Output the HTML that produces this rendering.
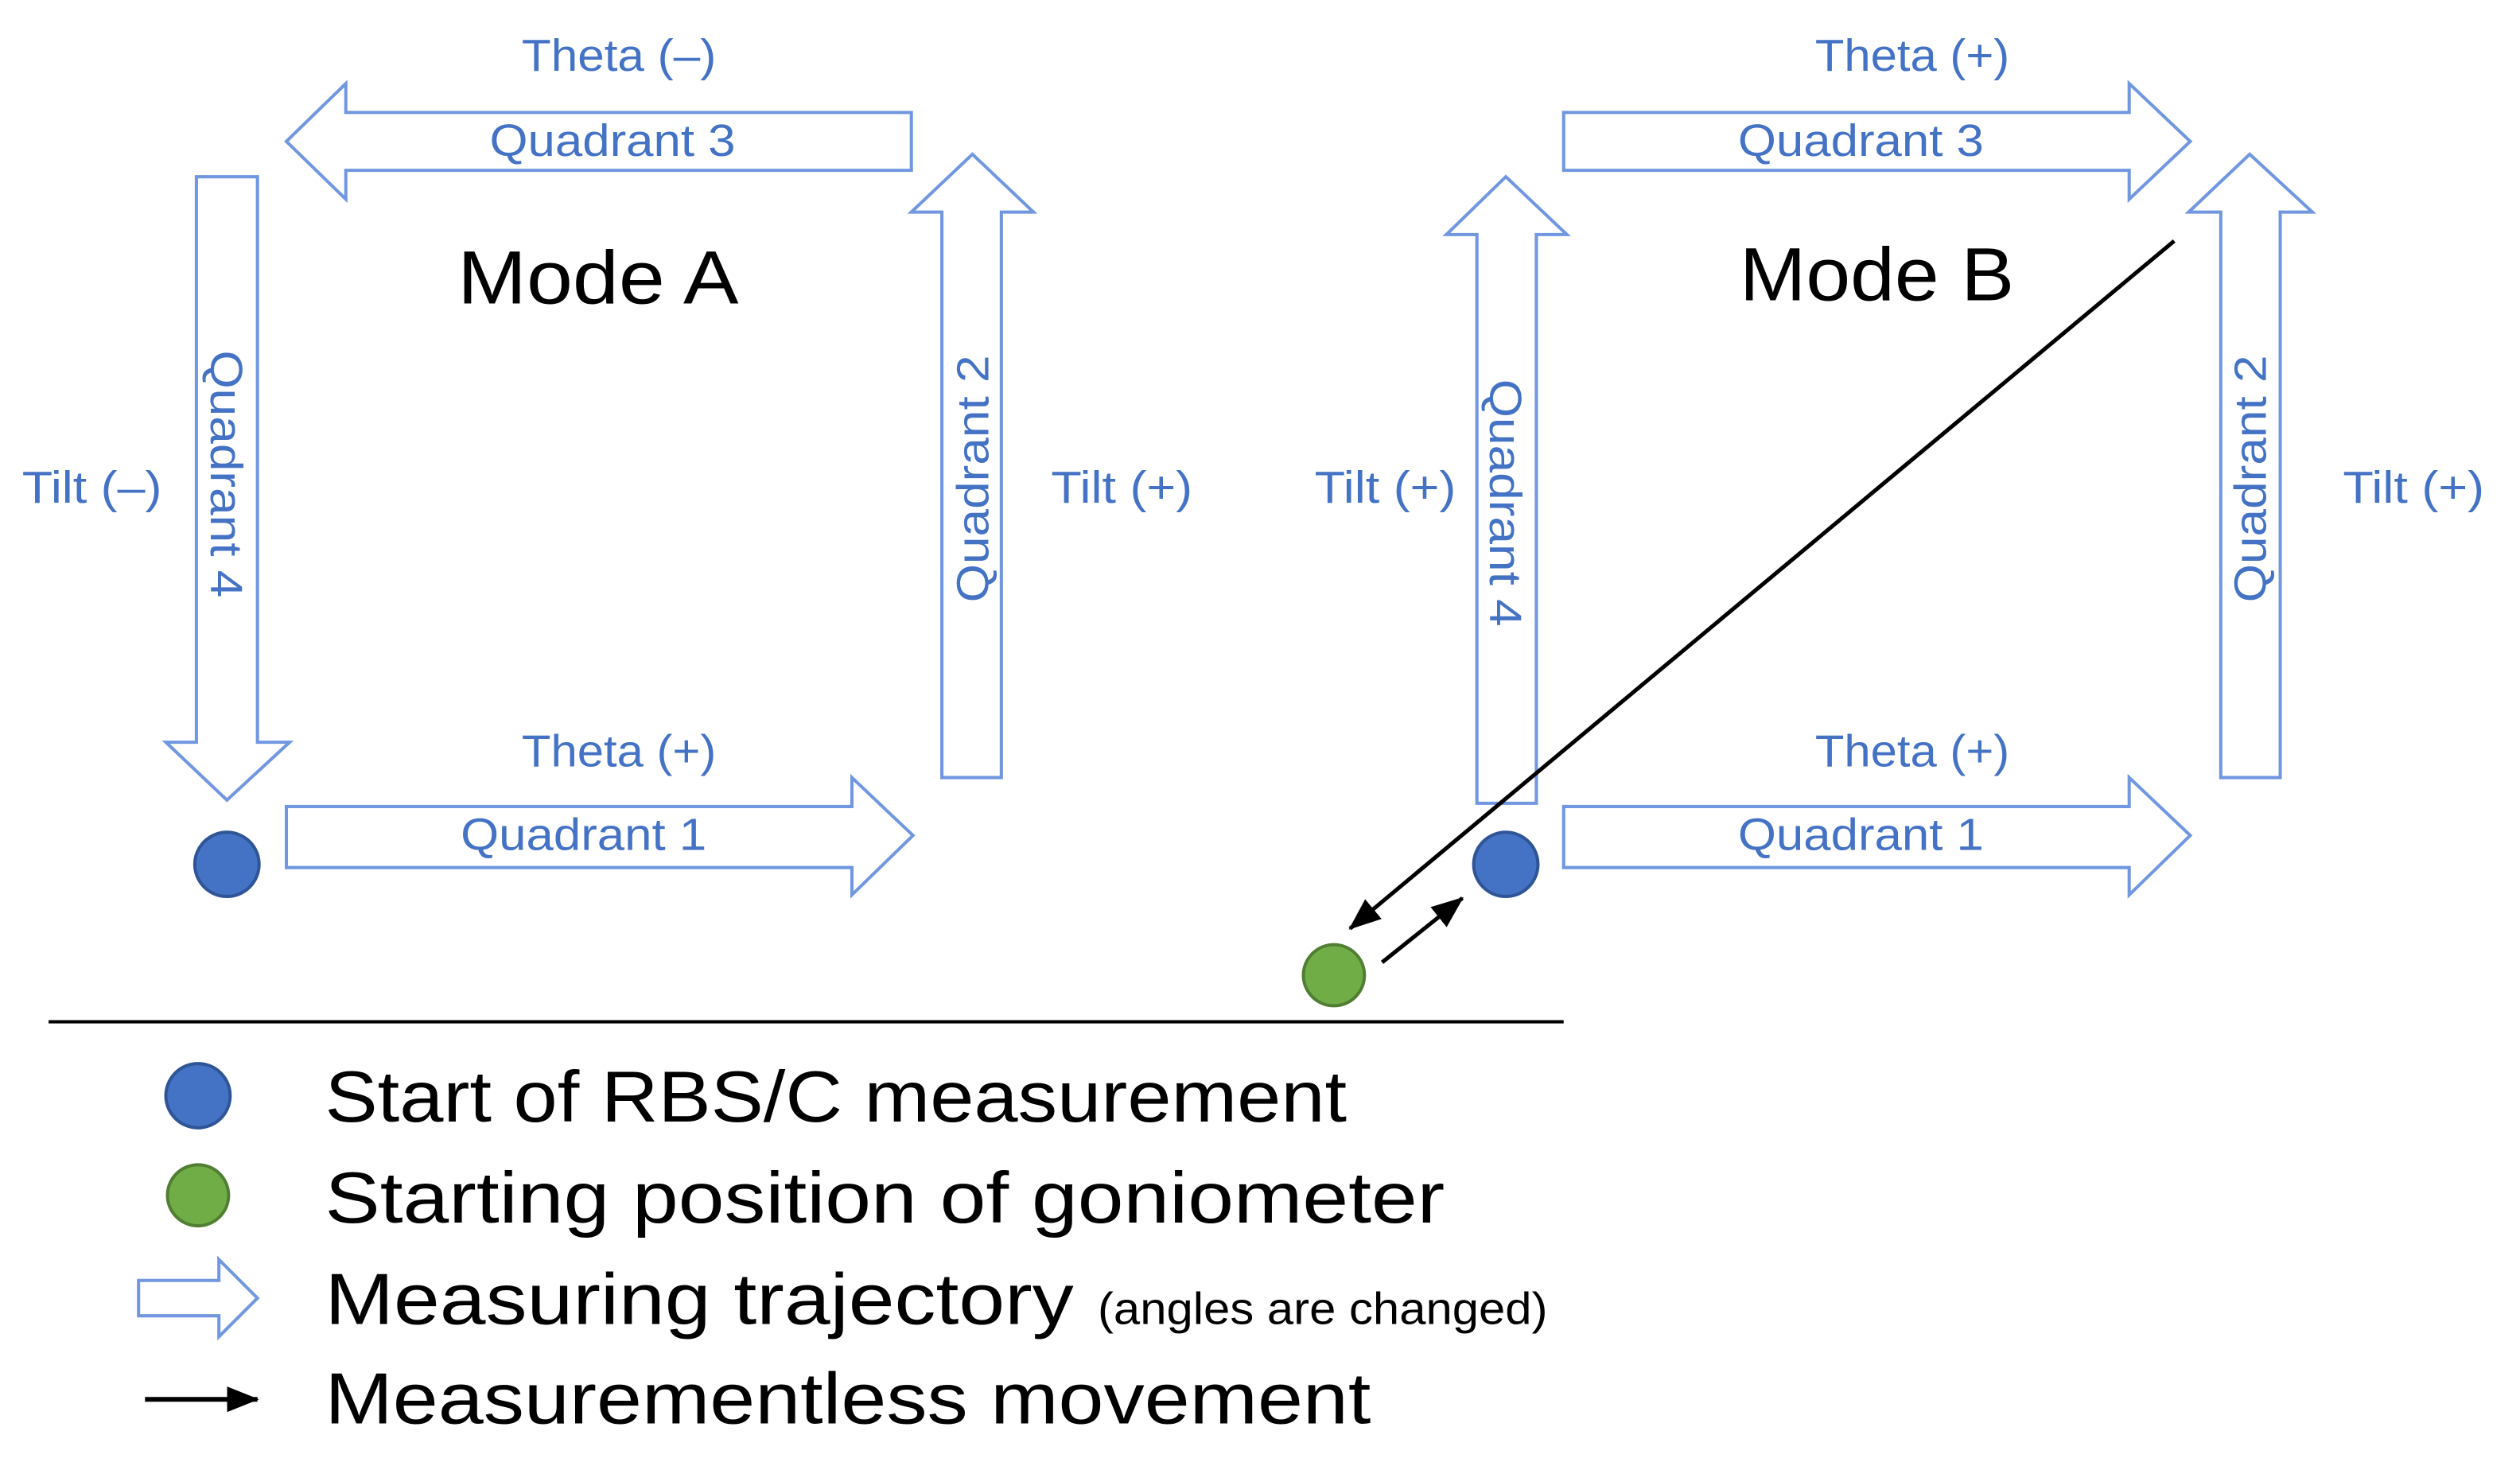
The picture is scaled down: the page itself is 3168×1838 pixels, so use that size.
<!DOCTYPE html>
<html><head><meta charset="utf-8"><style>
html,body{margin:0;padding:0;background:#fff}
svg{display:block}
text{font-family:"Liberation Sans",sans-serif}
.l{fill:#4472c4;font-size:28px}
.a{fill:#fff;stroke:#7097e0;stroke-width:2}
</style></head><body>
<svg width="3168" height="1838" viewBox="0 0 1568 910" xmlns="http://www.w3.org/2000/svg">
<defs>
<marker id="m2" markerWidth="20" markerHeight="16" refX="19" refY="8" orient="auto" markerUnits="userSpaceOnUse" viewBox="0 0 20 16">
<path d="M0,0 L20,8 L0,16 z" fill="#000"/></marker>
</defs>
<!-- Mode A -->
<polygon class="a" points="567,70 215,70 215,52 178,88 215,124 215,106 567,106"/>
<polygon class="a" points="122,110 160,110 160,462 180,462 141,498 103,462 122,462"/>
<polygon class="a" points="586,484 623,484 623,132 643,132 605,96 567,132 586,132"/>
<polygon class="a" points="178,502 530,502 530,484 568,520 530,557 530,540 178,540"/>
<circle cx="141" cy="538" r="20" fill="#4472c4" stroke="#2f5597" stroke-width="2"/>
<text class="l" x="385" y="44" text-anchor="middle" textLength="121" lengthAdjust="spacingAndGlyphs">Theta (–)</text>
<text class="l" x="381" y="97" text-anchor="middle" textLength="153" lengthAdjust="spacingAndGlyphs">Quadrant 3</text>
<text x="372" y="189" text-anchor="middle" font-size="47" fill="#000" textLength="175" lengthAdjust="spacingAndGlyphs">Mode A</text>
<text class="l" x="57" y="313" text-anchor="middle" textLength="87" lengthAdjust="spacingAndGlyphs">Tilt (–)</text>
<text class="l" x="698" y="313" text-anchor="middle" textLength="88" lengthAdjust="spacingAndGlyphs">Tilt (+)</text>
<text class="l" transform="translate(131,295) rotate(90)" text-anchor="middle" textLength="154" lengthAdjust="spacingAndGlyphs">Quadrant 4</text>
<text class="l" transform="translate(615,298) rotate(-90)" text-anchor="middle" textLength="154" lengthAdjust="spacingAndGlyphs">Quadrant 2</text>
<text class="l" x="385" y="477" text-anchor="middle" textLength="121" lengthAdjust="spacingAndGlyphs">Theta (+)</text>
<text class="l" x="363" y="529" text-anchor="middle" textLength="153" lengthAdjust="spacingAndGlyphs">Quadrant 1</text>
<!-- Mode B -->
<polygon class="a" points="973,70 1325,70 1325,52 1363,88 1325,124 1325,106 973,106"/>
<polygon class="a" points="919,500 956,500 956,146 975,146 937,110 900,146 919,146"/>
<polygon class="a" points="1382,484 1419,484 1419,132 1439,132 1400,96 1362,132 1382,132"/>
<polygon class="a" points="973,502 1325,502 1325,484 1363,520 1325,557 1325,540 973,540"/>
<text class="l" x="1190" y="44" text-anchor="middle" textLength="121" lengthAdjust="spacingAndGlyphs">Theta (+)</text>
<text class="l" x="1158" y="97" text-anchor="middle" textLength="153" lengthAdjust="spacingAndGlyphs">Quadrant 3</text>
<text x="1168" y="187" text-anchor="middle" font-size="47" fill="#000" textLength="171" lengthAdjust="spacingAndGlyphs">Mode B</text>
<text class="l" x="862" y="313" text-anchor="middle" textLength="88" lengthAdjust="spacingAndGlyphs">Tilt (+)</text>
<text class="l" x="1502" y="313" text-anchor="middle" textLength="88" lengthAdjust="spacingAndGlyphs">Tilt (+)</text>
<text class="l" transform="translate(927,313) rotate(90)" text-anchor="middle" textLength="154" lengthAdjust="spacingAndGlyphs">Quadrant 4</text>
<text class="l" transform="translate(1410,298) rotate(-90)" text-anchor="middle" textLength="154" lengthAdjust="spacingAndGlyphs">Quadrant 2</text>
<text class="l" x="1190" y="477" text-anchor="middle" textLength="121" lengthAdjust="spacingAndGlyphs">Theta (+)</text>
<text class="l" x="1158" y="529" text-anchor="middle" textLength="153" lengthAdjust="spacingAndGlyphs">Quadrant 1</text>
<line x1="1353" y1="150" x2="840" y2="578" stroke="#000" stroke-width="2.5" marker-end="url(#m2)"/>
<line x1="860" y1="599" x2="910" y2="559" stroke="#000" stroke-width="2.5" marker-end="url(#m2)"/>
<circle cx="937" cy="538" r="20" fill="#4472c4" stroke="#2f5597" stroke-width="2"/>
<circle cx="830" cy="607" r="19" fill="#70ad47" stroke="#507e32" stroke-width="2"/>
<line x1="30" y1="636" x2="973" y2="636" stroke="#000" stroke-width="2"/>
<!-- Legend -->
<circle cx="123" cy="682" r="20" fill="#4472c4" stroke="#2f5597" stroke-width="2"/>
<circle cx="123" cy="744" r="19" fill="#70ad47" stroke="#507e32" stroke-width="2"/>
<polygon class="a" points="86,797 136,797 136,784 160,808 136,832 136,819 86,819"/>
<line x1="90" y1="871" x2="160" y2="871" stroke="#000" stroke-width="3" marker-end="url(#m2)"/>
<text x="202" y="698" font-size="45" fill="#000" textLength="636" lengthAdjust="spacingAndGlyphs">Start of RBS/C measurement</text>
<text x="202" y="761" font-size="45" fill="#000" textLength="697" lengthAdjust="spacingAndGlyphs">Starting position of goniometer</text>
<text x="202" y="824" font-size="45" fill="#000" textLength="466" lengthAdjust="spacingAndGlyphs">Measuring trajectory</text>
<text x="683" y="824" font-size="28" fill="#000" textLength="280" lengthAdjust="spacingAndGlyphs">(angles are changed)</text>
<text x="202" y="886" font-size="45" fill="#000" textLength="651" lengthAdjust="spacingAndGlyphs">Measurementless movement</text>
</svg>
</body></html>
